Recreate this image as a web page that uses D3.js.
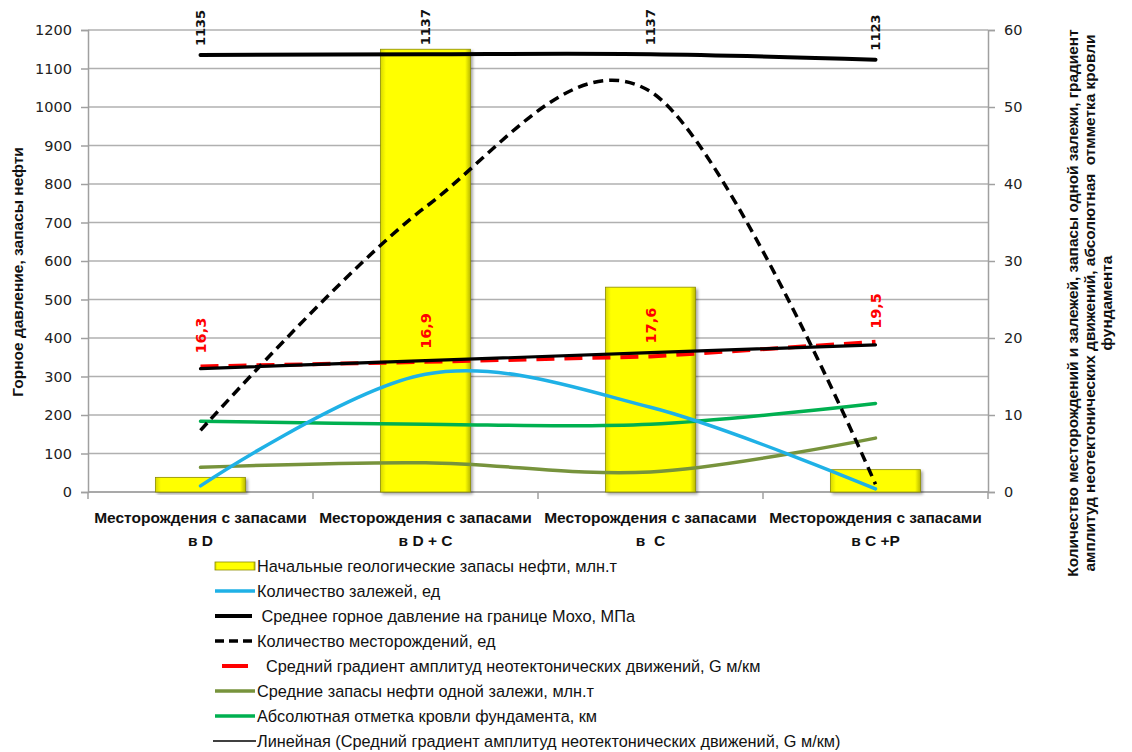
<!DOCTYPE html>
<html><head><meta charset="utf-8">
<script src="https://cdn.jsdelivr.net/npm/d3@7"></script>
<style>
body{margin:0;background:#fff;}
svg{display:block;}
.nar{font-family:"Liberation Sans Narrow","Arial Narrow","Liberation Sans",sans-serif;}
.num{font-family:"DejaVu Sans",Verdana,sans-serif;}
</style></head>
<body><svg id="c" width="1132" height="752"></svg>
<script>
// ---------- data ----------
const catLine1 = ["Месторождения с запасами","Месторождения с запасами","Месторождения с запасами","Месторождения с запасами"];
const catLine2 = ["в D","в D + С","в  С","в С +Р"];
const reserves = [38, 1150, 532, 58];            // bars, left axis
const pressure = [1135, 1137, 1137, 1123];       // left axis
const deposits = [0.8, 15.3, 11, 0.4];           // right axis
const fields = [8, 37, 52, 1];                   // right axis
const gradient = [16.3, 16.9, 17.6, 19.5];       // right axis
const avgReserves = [3.2, 3.8, 2.6, 7.0];        // right axis
const basement = [9.2, 8.8, 8.8, 11.5];          // right axis
const leftTicks = d3.range(0, 1201, 100);
const rightTicks = d3.range(0, 61, 10);
const gradientLabels = ["16,3","16,9","17,6","19,5"];
const legendLabels = [
 "Начальные геологические запасы нефти, млн.т",
 "Количество залежей, ед",
 " Среднее горное давление на границе Мохо, МПа",
 "Количество месторождений, ед",
 "  Средний градиент амплитуд неотектонических движений, G м/км",
 "Средние запасы нефти одной залежи, млн.т",
 "Абсолютная отметка кровли фундамента, км",
 "Линейная (Средний градиент амплитуд неотектонических движений, G м/км)"
];
const leftTitle = "Горное давление, запасы нефти";
const rightTitle = ["Количество месторождений и залежей, запасы одной залежи, градиент",
  "амплитуд неотектонических движений, абсолютная  отмметка кровли","фундамента"];

// ---------- layout ----------
const svg = d3.select("#c");
const L = 88, R = 988, T = 30, B = 492;
const idx = d3.range(catLine1.length);
const x = d3.scaleBand().domain(idx).range([L, R]).paddingInner(0.6).paddingOuter(0.3);
const cx = i => x(i) + x.bandwidth() / 2;
const yL = d3.scaleLinear().domain([0, 1200]).range([B, T]);
const yR = d3.scaleLinear().domain([0, 60]).range([B, T]);

const defs = svg.append("defs");
const g1 = defs.append("linearGradient").attr("id","barg").attr("x1","0").attr("x2","1").attr("y1","0").attr("y2","0");
g1.append("stop").attr("offset","0").attr("stop-color","#d8d800");
g1.append("stop").attr("offset","0.06").attr("stop-color","#ffff00");
g1.append("stop").attr("offset","0.94").attr("stop-color","#ffff00");
g1.append("stop").attr("offset","1").attr("stop-color","#b8b800");
const f = defs.append("filter").attr("id","sh").attr("x","-10%").attr("y","-10%").attr("width","130%").attr("height","130%");
f.append("feDropShadow").attr("dx",2).attr("dy",2).attr("stdDeviation",1.5).attr("flood-color","#000").attr("flood-opacity",0.35);

// gridlines
svg.append("g").selectAll("line").data(leftTicks).join("line")
  .attr("x1", L).attr("x2", R).attr("y1", d => yL(d)).attr("y2", d => yL(d))
  .attr("stroke", "#b0b0b0").attr("stroke-width", 1.5);

// left axis
const axL = svg.append("g").attr("transform", `translate(${L},0)`)
  .call(d3.axisLeft(yL).tickValues(leftTicks).tickSize(7).tickPadding(9).tickFormat(d3.format("d")));
axL.select(".domain").attr("stroke", "#a0a0a0").attr("stroke-width", 1.5);
axL.selectAll(".tick line").attr("stroke", "#a0a0a0").attr("stroke-width", 1.5);
axL.selectAll("text").attr("class","num").attr("font-size", 14.5).attr("fill", "#222");

// right axis
const axR = svg.append("g").attr("transform", `translate(${R},0)`)
  .call(d3.axisRight(yR).tickValues(rightTicks).tickSize(7).tickPadding(9).tickFormat(d3.format("d")));
axR.select(".domain").attr("stroke", "#a0a0a0").attr("stroke-width", 1.5);
axR.selectAll(".tick line").attr("stroke", "#a0a0a0").attr("stroke-width", 1.5);
axR.selectAll("text").attr("class","num").attr("font-size", 14.5).attr("fill", "#222");

// bottom axis (category boundaries)
const bnd = d3.range(catLine1.length + 1).map(i => L + i * x.step());
svg.append("line").attr("x1", L).attr("x2", R).attr("y1", B).attr("y2", B).attr("stroke", "#a0a0a0").attr("stroke-width", 1.5);
svg.append("g").selectAll("line").data(bnd).join("line")
  .attr("x1", d => d).attr("x2", d => d).attr("y1", B).attr("y2", B + 7).attr("stroke", "#a0a0a0").attr("stroke-width", 1.5);

// category labels
const cl = svg.append("g").attr("class","nar").attr("font-weight","bold").attr("font-size",15.5).attr("fill","#111").attr("text-anchor","middle");
cl.selectAll("text.a").data(idx).join("text").attr("class","a").attr("x", cx).attr("y", 523).text(i => catLine1[i]);
cl.selectAll("text.b").data(idx).join("text").attr("class","b").attr("x", cx).attr("y", 546).attr("xml:space","preserve").text(i => catLine2[i]);

// bars
svg.append("g").selectAll("rect").data(idx).join("rect")
  .attr("x", i => x(i)).attr("width", x.bandwidth())
  .attr("y", i => yL(reserves[i])).attr("height", i => B - yL(reserves[i]))
  .attr("fill", "url(#barg)").attr("stroke", "#8c8c00").attr("stroke-width", 0.8).attr("filter","url(#sh)");

// lines
const smooth = d3.curveCardinal.tension(0);
const lineR = d3.line().x((d, i) => cx(i)).y(d => yR(d)).curve(smooth);
const lineRlin = d3.line().x((d, i) => cx(i)).y(d => yR(d));
const lineL = d3.line().x((d, i) => cx(i)).y(d => yL(d)).curve(smooth);
const P = svg.append("g").attr("fill", "none").attr("stroke-linecap","round");
P.append("path").attr("d", lineR(avgReserves)).attr("stroke", "#77933c").attr("stroke-width", 3.5);
P.append("path").attr("d", lineR(basement)).attr("stroke", "#00b050").attr("stroke-width", 3.5);
P.append("path").attr("d", lineR(deposits)).attr("stroke", "#1fb1e6").attr("stroke-width", 3.5);
P.append("path").attr("d", lineRlin(gradient)).attr("stroke", "#ff0000").attr("stroke-width", 4).attr("stroke-dasharray","18 10").attr("stroke-linecap","butt");
// linear trendline of gradient
const xs = idx.map(i => i + 1);
const mx = d3.mean(xs), my = d3.mean(gradient);
const slope = d3.sum(xs, (v, k) => (v - mx) * (gradient[k] - my)) / d3.sum(xs, v => (v - mx) ** 2);
const trend = xs.map(v => my + slope * (v - mx));
P.append("path").attr("d", lineRlin(trend)).attr("stroke", "#000").attr("stroke-width", 3.2);
P.append("path").attr("d", lineR(fields)).attr("stroke", "#000").attr("stroke-width", 3.5).attr("stroke-dasharray","10 6").attr("stroke-linecap","butt");
P.append("path").attr("d", lineL(pressure)).attr("stroke", "#000").attr("stroke-width", 4);

// data labels
svg.append("g").selectAll("text").data(idx).join("text").attr("class","num")
  .attr("transform", i => `translate(${cx(i)},${yL(pressure[i]) - 9}) rotate(-90)`)
  .attr("dy", "0.36em").attr("font-size", 13).attr("font-weight", "bold").attr("fill", "#111")
  .text(i => pressure[i]);
svg.append("g").selectAll("text").data(idx).join("text").attr("class","num")
  .attr("transform", i => `translate(${cx(i)},${yR(gradient[i]) - 13}) rotate(-90)`)
  .attr("dy", "0.36em").attr("font-size", 14.5).attr("font-weight", "bold").attr("fill", "#ff0000")
  .text(i => gradientLabels[i]);

// axis titles
svg.append("text").attr("class","nar").attr("transform", "translate(23,272) rotate(-90)")
  .attr("text-anchor","middle").attr("font-weight","bold").attr("font-size",15.5).attr("fill","#111").text(leftTitle);
svg.append("g").selectAll("text").data(rightTitle).join("text").attr("class","nar")
  .attr("transform", (d, i) => `translate(${1078 + i * 17},303) rotate(-90)`)
  .attr("text-anchor","middle").attr("font-weight","bold").attr("font-size",15.4).attr("fill","#111")
  .attr("xml:space","preserve").text(d => d);

// legend
const lg = svg.append("g").attr("class","nar").attr("font-size",16.3).attr("fill","#111");
const rowY = i => 566 + i * 25;
const row = lg.selectAll("g").data(legendLabels).join("g").attr("transform", (d, i) => `translate(0,${rowY(i)})`);
row.append("text").attr("x", 257).attr("y", 0).attr("dy","0.35em").attr("xml:space","preserve").text(d => d);
const sym = [
 g => g.append("rect").attr("x",215).attr("y",-4).attr("width",40).attr("height",8).attr("fill","url(#barg)").attr("stroke","#8c8c00").attr("stroke-width",0.8),
 g => g.append("line").attr("x1",215).attr("x2",255).attr("stroke","#1fb1e6").attr("stroke-width",3.5),
 g => g.append("line").attr("x1",215).attr("x2",252).attr("stroke","#000").attr("stroke-width",4),
 g => g.append("line").attr("x1",215).attr("x2",256).attr("stroke","#000").attr("stroke-width",3.5).attr("stroke-dasharray","9 5"),
 g => g.append("line").attr("x1",222).attr("x2",248).attr("stroke","#ff0000").attr("stroke-width",4),
 g => g.append("line").attr("x1",215).attr("x2",255).attr("stroke","#77933c").attr("stroke-width",3.5),
 g => g.append("line").attr("x1",215).attr("x2",255).attr("stroke","#00b050").attr("stroke-width",3.5),
 g => g.append("line").attr("x1",213).attr("x2",256).attr("stroke","#000").attr("stroke-width",1.5)
];
row.each(function(d, i){ sym[i](d3.select(this)); });
</script></body></html>
